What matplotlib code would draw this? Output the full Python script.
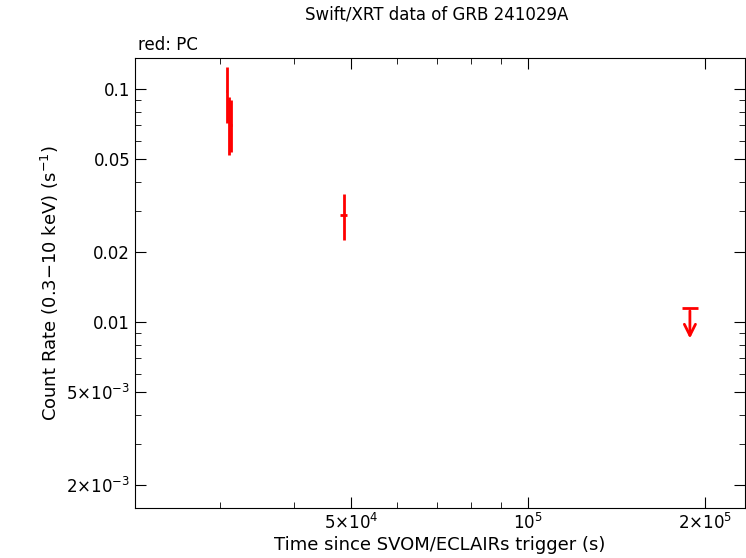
import matplotlib
matplotlib.use("Agg")
import matplotlib.pyplot as plt
from matplotlib.ticker import FixedLocator, FixedFormatter, LogLocator, NullFormatter

t = [30770, 31050, 31310, 48640]
t_lo = [30690, 30950, 31200, 47860]
t_hi = [30850, 31150, 31420, 49220]
rate = [0.098, 0.0751, 0.0701, 0.0288]
r_lo = [0.0714, 0.0521, 0.0537, 0.0225]
r_hi = [0.1243, 0.0924, 0.0897, 0.0354]
ul_t = [1.886e5]; ul_lo = [1.828e5]; ul_hi = [1.945e5]; ul_rate = [0.01148]

fig = plt.figure(figsize=(7.46, 5.58), dpi=100)
ax = fig.add_axes([135/746, 1-508/558, 610/746, 450/558])
ax.set_xscale('log'); ax.set_yscale('log')
ax.set_xlim(21480, 2.34e5); ax.set_ylim(1.59e-3, 0.136)
xerr = [[a-b for a, b in zip(t, t_lo)], [b-a for a, b in zip(t, t_hi)]]
yerr = [[a-b for a, b in zip(rate, r_lo)], [b-a for a, b in zip(rate, r_hi)]]
ax.errorbar(t, rate, xerr=xerr, yerr=yerr, fmt='none', ecolor='red', elinewidth=2)
ax.errorbar(ul_t, ul_rate, xerr=[[ul_t[0]-ul_lo[0]], [ul_hi[0]-ul_t[0]]], fmt='none', ecolor='red', elinewidth=2)
ax.annotate('', xy=(ul_t[0], ul_rate[0]*0.72), xytext=(ul_t[0], ul_rate[0]),
            arrowprops=dict(arrowstyle='->', color='red', lw=2, mutation_scale=20))
yt = [0.1, 0.05, 0.02, 0.01, 5e-3, 2e-3]
yl = ['0.1', '0.05', '0.02', '0.01', r'5$\times$10$^{-3}$', r'2$\times$10$^{-3}$']
ax.yaxis.set_major_locator(FixedLocator(yt)); ax.yaxis.set_major_formatter(FixedFormatter(yl))
ax.yaxis.set_minor_locator(LogLocator(subs=range(1, 10), numticks=20)); ax.yaxis.set_minor_formatter(NullFormatter())
xt = [5e4, 1e5, 2e5]
xl = [r'5$\times$10$^4$', r'10$^5$', r'2$\times$10$^5$']
ax.xaxis.set_major_locator(FixedLocator(xt)); ax.xaxis.set_major_formatter(FixedFormatter(xl))
ax.xaxis.set_minor_locator(LogLocator(subs=range(1, 10), numticks=20)); ax.xaxis.set_minor_formatter(NullFormatter())
ax.tick_params(which='both', direction='in', top=True, right=True, labelsize=12)
ax.tick_params(which='major', length=8); ax.tick_params(which='minor', length=4)
ax.set_xlabel('Time since SVOM/ECLAIRs trigger (s)', fontsize=13, labelpad=2)
ax.set_ylabel(r'Count Rate (0.3$-$10 keV) (s$^{-1}$)', fontsize=13)
fig.text(0.585, 0.965, 'Swift/XRT data of GRB 241029A', ha='center', fontsize=12)
fig.text(138/746, 1-50/558, 'red: PC', fontsize=12)
fig.savefig('out.png', dpi=100)
